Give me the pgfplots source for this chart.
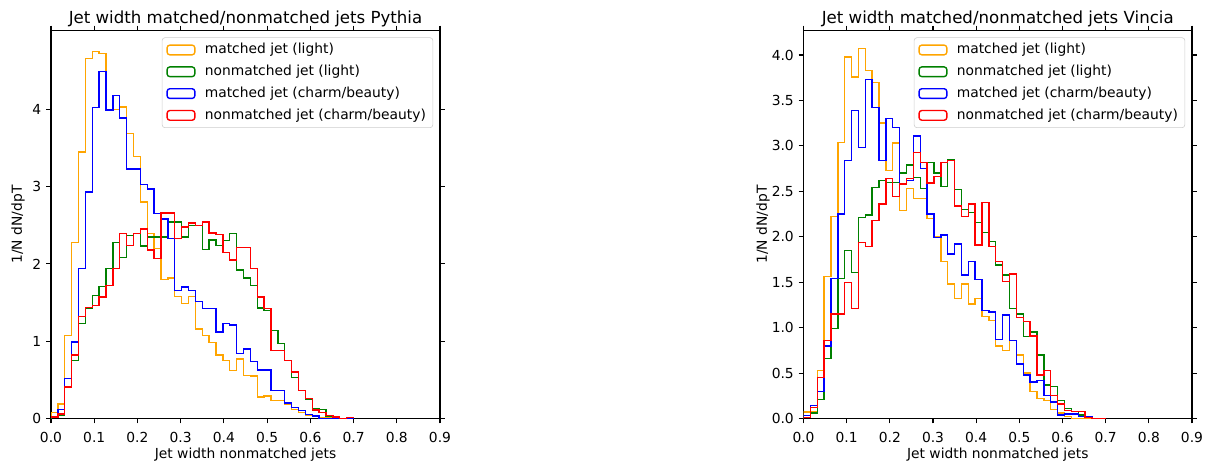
\documentclass[border=0pt]{standalone}
\usepackage{fontspec}
\setmainfont{DejaVu Sans}
\usepackage{pgfplots}
\usepackage{pgfplotstable}
\pgfplotsset{compat=1.18}
\definecolor{mplorange}{HTML}{FFA500}
\definecolor{mplgreen}{HTML}{008000}
\definecolor{mplblue}{HTML}{0000FF}
\definecolor{mplred}{HTML}{FF0000}

\pgfplotstableread{
k o g b r
0 0 0 0 0
0 0.08 0.01 0.02 0.02
1 0.19 0.04 0.12 0.06
2 1.07 0.41 0.52 0.41
3 2.28 0.75 0.99 0.82
4 3.45 1.23 1.94 1.32
5 4.66 1.43 2.93 1.44
6 4.75 1.59 4.02 1.46
7 4.72 1.71 4.49 1.57
8 4.00 1.94 3.99 1.72
9 4.00 2.28 4.18 1.94
10 4.03 2.08 3.89 2.39
11 3.69 2.37 3.23 2.24
12 3.39 2.39 3.23 2.39
13 2.80 2.23 3.03 2.45
14 2.39 2.35 2.97 2.18
15 2.20 2.35 2.65 2.07
16 1.80 2.35 2.58 2.66
17 1.82 2.54 2.33 2.66
18 1.58 2.54 1.66 2.33
19 1.49 2.35 1.70 2.48
20 1.58 2.50 1.66 2.53
21 1.16 2.50 1.51 2.50
22 1.07 2.19 1.42 2.54
23 0.98 2.31 1.42 2.40
24 0.82 2.24 1.12 2.38
25 0.75 2.30 1.23 2.15
26 0.62 2.39 1.21 2.05
27 0.77 1.92 0.84 2.21
28 0.56 1.82 0.90 2.21
29 0.55 1.72 0.74 1.94
30 0.28 1.43 0.63 1.57
31 0.29 1.40 0.63 1.42
32 0.23 1.14 0.36 0.88
33 0.23 0.97 0.36 0.88
34 0.18 0.75 0.20 0.75
35 0.12 0.53 0.14 0.60
36 0.08 0.36 0.10 0.36
37 0.04 0.25 0.05 0.26
38 0.04 0.13 0.03 0.11
39 0.01 0.12 0.00 0.08
40 0.01 0.03 0.00 0.04
41 0.00 0.02 0.00 0.02
42 0.00 0.00 0.00 0.00
43 0.00 0.00 0.00 0.015
44 0 0 0 0
}\pythia

\pgfplotstableread{
k o g b r
0 0 0 0 0
0 0.07 0.01 0.03 0.01
1 0.07 0.06 0.14 0.12
2 0.53 0.21 0.30 0.45
3 1.56 0.66 0.80 0.86
4 2.22 0.99 1.54 1.15
5 3.04 1.54 2.25 1.15
6 3.98 1.85 2.84 1.50
7 3.76 1.61 3.39 1.21
8 4.07 2.21 2.98 1.94
9 3.83 2.24 3.73 1.89
10 3.70 2.54 3.42 2.18
11 3.25 2.62 2.84 2.36
12 2.73 2.60 3.30 2.64
13 3.03 2.60 3.20 2.44
14 2.29 2.70 2.58 2.58
15 2.53 2.79 2.62 2.64
16 2.42 2.65 3.11 2.93
17 2.42 2.53 2.75 2.82
18 2.20 2.82 2.25 2.59
19 2.00 2.70 1.99 2.66
20 1.73 2.55 2.02 2.82
21 1.48 2.85 1.81 2.84
22 1.32 2.52 1.92 2.34
23 1.48 2.30 1.58 2.22
24 1.26 2.27 1.73 2.36
25 1.32 2.16 1.53 1.91
26 1.12 2.05 1.19 2.38
27 1.08 1.95 1.17 1.89
28 0.80 1.69 0.87 1.73
29 0.75 1.58 1.14 1.51
30 0.86 1.21 0.86 1.59
31 0.70 1.15 0.60 1.11
32 0.50 0.90 0.48 1.07
33 0.30 0.95 0.40 0.91
34 0.22 0.70 0.42 0.48
35 0.20 0.37 0.25 0.53
36 0.10 0.35 0.18 0.25
37 0.06 0.20 0.04 0.16
38 0.02 0.11 0.05 0.09
39 0.00 0.08 0.05 0.08
40 0.00 0.04 0.02 0.08
41 0.00 0.02 0.02 0.01
42 0 0 0 0
43 0 0 0 0
44 0 0 0 0
}\vincia

\pgfplotsset{
  histax/.style={
    scale only axis, anchor=south west, height=279.36bp,
    xmin=0, xmax=0.9, ymin=0,
    xtick={0,0.1,0.2,0.3,0.4,0.5,0.6,0.7,0.8,0.9},
    tick align=outside, major tick length=3.5bp,
    every tick/.style={black, line width=0.8bp},
    axis line style={black, line width=0.8bp},
    /pgf/number format/assume math mode=true,
    tick label style={font=\fontsize{10}{12}\selectfont, black},
    x tick label style={yshift=-2.6bp, /pgf/number format/.cd, fixed, fixed zerofill, precision=1, /tikz/.cd},
    label style={font=\fontsize{10}{12}\selectfont},
    title style={font=\fontsize{12}{14}\selectfont, at={(axis description cs:0.5,1.0193)}, anchor=base, yshift=-6pt},
    xlabel style={at={(axis description cs:0.5,-0.1035)}, anchor=base},
    xlabel={Jet width nonmatched jets},
    ylabel={1/N dN/dpT},
    legend cell align=left,
    legend image code/.code={\draw[##1, line width=1bp] (0bp,-3.5bp) rectangle (20bp,3.5bp);},
    legend style={at={(axis description cs:1,1)}, anchor=north east, xshift=-4.97bp, yshift=-4.97bp,
      draw=black!20, rounded corners=2bp, fill=white, font=\fontsize{10}{12}\selectfont,
      inner xsep=3bp, inner ysep=1bp, row sep=0bp,
      nodes={text height=7.5bp, text depth=2.2bp, inner ysep=3bp},
      /tikz/every odd column/.append style={column sep=4.7bp}},
    histline/.style={const plot mark left, line width=1bp, mark=none},
  }
}

\begin{document}
\begin{tikzpicture}
\useasboundingbox (-36.72bp,-31.32bp) rectangle (830.88bp,301.32bp);
\begin{axis}[histax, at={(0bp,0bp)}, width=280.08bp, ymax=5.02,
  ytick={0,1,2,3,4},
  title={Jet width matched/nonmatched jets Pythia},
  ylabel style={at={(axis description cs:-0.0746,0.5)}, anchor=base}]
\addplot[histline, mplorange] table[x expr=\thisrow{k}*0.0159091, y=o] {\pythia};
\addlegendentry{matched jet (light)}
\addplot[histline, mplgreen] table[x expr=\thisrow{k}*0.0159091, y=g] {\pythia};
\addlegendentry{nonmatched jet (light)}
\addplot[histline, mplblue] table[x expr=\thisrow{k}*0.0159091, y=b] {\pythia};
\addlegendentry{matched jet (charm/beauty)}
\addplot[histline, mplred] table[x expr=\thisrow{k}*0.0159091, y=r] {\pythia};
\addlegendentry{nonmatched jet (charm/beauty)}
\end{axis}
\begin{axis}[histax, at={(541.8bp,0bp)}, width=279.72bp, ymax=4.27,
  ytick={0,0.5,1,1.5,2,2.5,3,3.5,4},
  y tick label style={/pgf/number format/.cd, fixed, fixed zerofill, precision=1, /tikz/.cd},
  title={Jet width matched/nonmatched jets Vincia},
  ylabel style={at={(axis description cs:-0.094,0.5)}, anchor=base}]
\addplot[histline, mplorange] table[x expr=\thisrow{k}*0.0159091, y=o] {\vincia};
\addlegendentry{matched jet (light)}
\addplot[histline, mplgreen] table[x expr=\thisrow{k}*0.0159091, y=g] {\vincia};
\addlegendentry{nonmatched jet (light)}
\addplot[histline, mplblue] table[x expr=\thisrow{k}*0.0159091, y=b] {\vincia};
\addlegendentry{matched jet (charm/beauty)}
\addplot[histline, mplred] table[x expr=\thisrow{k}*0.0159091, y=r] {\vincia};
\addlegendentry{nonmatched jet (charm/beauty)}
\end{axis}
\end{tikzpicture}
\end{document}
